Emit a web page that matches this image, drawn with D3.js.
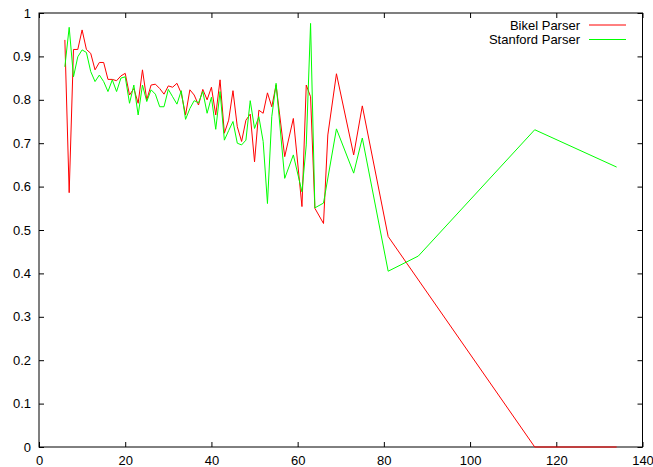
<!DOCTYPE html>
<html>
<head>
<meta charset="utf-8">
<script src="https://cdn.jsdelivr.net/npm/d3@7"></script>
<style>
  body { margin: 0; background: #fff; }
  svg { display: block; }
  text { font-family: "Liberation Sans", Arial, sans-serif; }
</style>
</head>
<body>
<div id="chart"></div>
<script>
// data (x = sentence length, y = score)
let bikelX = [6, 7, 8, 9, 10, 11, 12, 13, 14, 15, 16, 17, 18, 19, 20, 21, 22, 23, 24, 25,
  26, 27, 28, 29, 30, 31, 32, 33, 34, 35, 36, 37, 38, 39, 40, 41, 42, 43, 44, 45,
  46, 47, 48, 49, 50, 51, 52, 53, 54, 55, 57, 59, 61, 62, 63, 64, 66, 67, 69, 73,
  75, 81, 115, 134];
let bikelY = [0.938, 0.586, 0.916, 0.916, 0.961, 0.916, 0.907, 0.869, 0.886, 0.886,
  0.847, 0.847, 0.844, 0.855, 0.861, 0.811, 0.826, 0.792, 0.869, 0.800,
  0.834, 0.836, 0.826, 0.813, 0.832, 0.829, 0.838, 0.815, 0.765, 0.823,
  0.811, 0.788, 0.824, 0.800, 0.829, 0.765, 0.846, 0.723, 0.753, 0.821,
  0.738, 0.704, 0.753, 0.767, 0.657, 0.776, 0.769, 0.816, 0.784, 0.834,
  0.669, 0.757, 0.554, 0.834, 0.807, 0.550, 0.515, 0.719, 0.860, 0.673,
  0.786, 0.485, 0, 0];

let stanfordX = [6, 7, 8, 9, 10, 11, 12, 13, 14, 15, 16, 17, 18, 19, 20, 21, 22, 23, 24, 25,
  26, 27, 28, 29, 30, 31, 32, 33, 34, 35, 36, 37, 38, 39, 40, 41, 42, 43, 44, 45,
  46, 47, 48, 49, 50, 51, 52, 53, 54, 55, 57, 59, 61, 62, 63, 64, 66, 69, 73, 75,
  81, 88, 115, 134];
let stanfordY = [0.876, 0.967, 0.853, 0.899, 0.915, 0.909, 0.865, 0.842, 0.857, 0.842,
  0.819, 0.846, 0.819, 0.850, 0.853, 0.792, 0.834, 0.765, 0.834, 0.796,
  0.823, 0.813, 0.784, 0.784, 0.824, 0.807, 0.790, 0.821, 0.755, 0.780,
  0.798, 0.793, 0.819, 0.769, 0.806, 0.732, 0.819, 0.707, 0.729, 0.750,
  0.700, 0.696, 0.707, 0.798, 0.734, 0.761, 0.704, 0.561, 0.761, 0.838,
  0.619, 0.673, 0.588, 0.696, 0.976, 0.551, 0.562, 0.733, 0.631, 0.712,
  0.405, 0.440, 0.731, 0.645];

let seriesNames = ["Bikel Parser", "Stanford Parser"];
let seriesColors = ["#ff0000", "#00ff00"];
let xTicks = [0, 20, 40, 60, 80, 100, 120, 140];
let yTicks = [0, 0.1, 0.2, 0.3, 0.4, 0.5, 0.6, 0.7, 0.8, 0.9, 1];

let W = 653, H = 467;
let plot = { left: 39, right: 642.5, top: 13, bottom: 447 };

let svg = d3.select("#chart").append("svg")
  .attr("width", W)
  .attr("height", H);

let x = d3.scaleLinear().domain([0, 140]).range([plot.left, plot.right]);
let y = d3.scaleLinear().domain([0, 1]).range([plot.bottom, plot.top]);

function fmt(d) { return d3.format("~g")(d); }

// axes, ticks pointing inward on all four sides
svg.append("g")
  .attr("transform", `translate(0,${plot.bottom})`)
  .call(d3.axisBottom(x).tickValues(xTicks).tickFormat(fmt).tickSize(-5).tickPadding(9));
svg.append("g")
  .attr("transform", `translate(0,${plot.top})`)
  .call(d3.axisTop(x).tickValues(xTicks).tickFormat("").tickSize(-5));
svg.append("g")
  .attr("transform", `translate(${plot.left},0)`)
  .call(d3.axisLeft(y).tickValues(yTicks).tickFormat(fmt).tickSize(-5).tickPadding(8));
svg.append("g")
  .attr("transform", `translate(${plot.right},0)`)
  .call(d3.axisRight(y).tickValues(yTicks).tickFormat("").tickSize(-5));

svg.selectAll(".domain").remove();
svg.selectAll(".tick line").attr("stroke", "#000");
svg.selectAll(".tick text")
  .attr("fill", "#000")
  .style("font-size", "13px")
  .style("font-family", '"Liberation Sans", Arial, sans-serif');

// frame
svg.append("rect")
  .attr("x", plot.left)
  .attr("y", plot.top)
  .attr("width", plot.right - plot.left)
  .attr("height", plot.bottom - plot.top)
  .attr("fill", "none")
  .attr("stroke", "#000")
  .attr("stroke-width", 1);

let line = d3.line()
  .x(d => x(d[0]))
  .y(d => y(d[1]));

let series = [
  d3.zip(bikelX, bikelY),
  d3.zip(stanfordX, stanfordY)
];

svg.append("g")
  .selectAll("path")
  .data(series)
  .join("path")
  .attr("d", line)
  .attr("fill", "none")
  .attr("stroke", (d, i) => seriesColors[i])
  .attr("stroke-width", 1);

// legend (first sample sits between pixel rows, like the original)
let legendY = [25, 39.5];
let legend = svg.append("g")
  .selectAll("g")
  .data(seriesNames)
  .join("g")
  .attr("transform", (d, i) => `translate(0,${legendY[i]})`);

legend.append("text")
  .attr("x", 580)
  .attr("dy", "0.35em")
  .attr("text-anchor", "end")
  .attr("fill", "#000")
  .style("font-size", "13px")
  .text(d => d);

legend.append("line")
  .attr("x1", 589)
  .attr("x2", 626)
  .attr("stroke", d => seriesColors[seriesNames.indexOf(d)])
  .attr("stroke-width", 1);
</script>
</body>
</html>
